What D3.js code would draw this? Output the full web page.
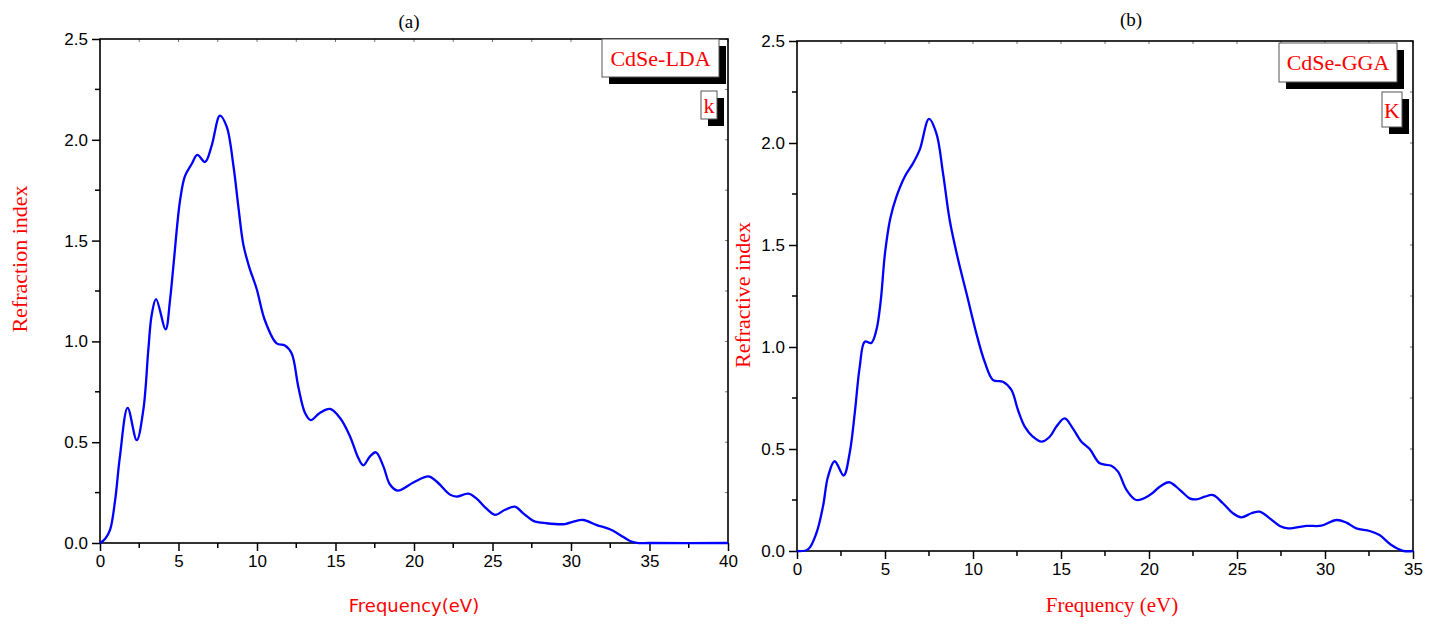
<!DOCTYPE html>
<html><head><meta charset="utf-8">
<script src="https://cdn.jsdelivr.net/npm/d3@7"></script>
<style>body{margin:0;background:#fff}svg{display:block}</style>
</head><body>
<svg id="c" width="1438" height="624"></svg>
<script>
// Panel (a) CdSe-LDA, k vs energy
const energyA = [0,0.32,0.64,0.96,1.27,1.76,2.34,2.76,3.08,3.29,3.57,4.18,4.46,4.67,5.1,5.41,5.84,6.2,6.69,7.11,7.64,8.07,8.5,8.81,9.13,9.5,9.98,10.5,11.25,11.78,12.21,12.63,13.06,13.42,14.0,14.65,15.29,15.92,16.46,16.77,17.2,17.58,18.05,18.47,18.95,19.96,20.92,21.44,22.29,22.72,23.46,23.99,24.62,25.16,25.8,26.43,26.96,27.6,28.45,29.62,30.15,30.78,31.64,32.48,33.12,33.76,34.2,35,40];
const kA = [0,0.02,0.065,0.21,0.43,0.67,0.51,0.66,0.96,1.13,1.21,1.06,1.205,1.37,1.70,1.82,1.88,1.925,1.89,1.97,2.12,2.065,1.87,1.67,1.48,1.37,1.26,1.105,0.99,0.98,0.94,0.775,0.645,0.61,0.645,0.665,0.62,0.53,0.42,0.385,0.43,0.45,0.38,0.29,0.26,0.30,0.33,0.305,0.24,0.23,0.245,0.22,0.17,0.14,0.165,0.18,0.147,0.11,0.098,0.094,0.106,0.114,0.089,0.068,0.04,0.01,0.001,0,0];
// Panel (b) CdSe-GGA, K vs energy
const energyB = [0,0.625,1.1,1.48,1.76,2.14,2.65,2.99,3.28,3.56,3.85,4.22,4.51,4.75,5.0,5.3,5.65,6.12,6.59,6.97,7.5,7.92,8.3,8.68,9.15,9.63,10.19,10.66,11.14,11.7,12.18,12.56,12.94,13.41,13.89,14.36,14.74,15.21,15.68,16.16,16.63,17.2,17.86,18.24,18.72,19.28,20.04,20.61,21.14,21.75,22.31,22.69,23.16,23.64,24.2,24.77,25.25,25.82,26.29,26.86,27.43,27.9,28.94,29.79,30.65,31.22,31.78,32.54,33.1,33.77,34.43,35];
const kB = [0,0.008,0.087,0.22,0.364,0.44,0.37,0.479,0.675,0.90,1.026,1.02,1.083,1.22,1.46,1.63,1.737,1.835,1.90,1.966,2.118,2.047,1.85,1.62,1.43,1.263,1.067,0.928,0.838,0.83,0.79,0.69,0.61,0.56,0.536,0.56,0.61,0.65,0.60,0.536,0.50,0.43,0.418,0.389,0.30,0.25,0.274,0.315,0.337,0.30,0.258,0.253,0.266,0.274,0.234,0.185,0.165,0.185,0.193,0.16,0.123,0.111,0.123,0.124,0.152,0.139,0.111,0.098,0.078,0.029,0.001,0];

const xTicksA = [0,5,10,15,20,25,30,35,40];
const xTicksB = [0,5,10,15,20,25,30,35];
const yTicks = [0,0.5,1.0,1.5,2.0,2.5];

const svg = d3.select("#c");

function panel(cfg){
  const g = svg.append("g");
  const x = d3.scaleLinear().domain(cfg.xdom).range([cfg.L, cfg.R]);
  const y = d3.scaleLinear().domain([0,2.5]).range([cfg.B, cfg.T]);

  const xMinor = d3.range(cfg.xdom[0], cfg.xdom[1]+0.001, 2.5);
  const yMinor = d3.range(0, 2.5001, 0.25);

  // bottom axis
  const bx = d3.axisBottom(x).tickValues(cfg.xticks).tickFormat(d3.format("d")).tickSize(8).tickSizeOuter(0).tickPadding(4);
  const gb = g.append("g").attr("transform",`translate(0,${cfg.B})`).call(bx);
  gb.selectAll("text").style("font-family","'Liberation Sans',Arial,sans-serif").style("font-size","17px").attr("fill","#000");
  gb.select(".domain").remove();
  gb.selectAll("line").attr("stroke-width",1.5);
  g.append("g").selectAll("line").data(xMinor.filter(v=>!cfg.xticks.includes(v))).join("line")
    .attr("x1",d=>x(d)).attr("x2",d=>x(d)).attr("y1",cfg.B).attr("y2",cfg.B+5).attr("stroke","#000").attr("stroke-width",1.5);

  // left axis
  const ly = d3.axisLeft(y).tickValues(yTicks).tickFormat(d3.format(".1f")).tickSize(8).tickSizeOuter(0).tickPadding(4);
  const gl = g.append("g").attr("transform",`translate(${cfg.L},0)`).call(ly);
  gl.selectAll("text").style("font-family","'Liberation Sans',Arial,sans-serif").style("font-size","17px").attr("fill","#000");
  gl.select(".domain").remove();
  gl.selectAll("line").attr("stroke-width",1.5);
  g.append("g").selectAll("line").data(yMinor.filter((v,i)=>i%2===1)).join("line")
    .attr("x1",cfg.L-5).attr("x2",cfg.L).attr("y1",d=>y(d)).attr("y2",d=>y(d)).attr("stroke","#000").attr("stroke-width",1.5);

  // top & right inward ticks
  g.append("g").selectAll("line").data(xMinor).join("line")
    .attr("x1",d=>x(d)).attr("x2",d=>x(d)).attr("y1",cfg.T).attr("y2",cfg.T+3).attr("stroke","#777").attr("stroke-width",1);
  g.append("g").selectAll("line").data(yMinor).join("line")
    .attr("x1",cfg.R-3).attr("x2",cfg.R).attr("y1",d=>y(d)).attr("y2",d=>y(d)).attr("stroke","#777").attr("stroke-width",1);

  // frame
  g.append("rect").attr("x",cfg.L).attr("y",cfg.T).attr("width",cfg.R-cfg.L).attr("height",cfg.B-cfg.T)
    .attr("fill","none").attr("stroke","#000").attr("stroke-width",1.6);

  // curve
  const line = d3.line().x((d,i)=>x(cfg.xs[i])).y((d,i)=>y(cfg.ys[i])).curve(d3.curveCatmullRom.alpha(0.5));
  g.append("path").datum(cfg.ys).attr("d",line).attr("fill","none").attr("stroke","#0000ff").attr("stroke-width",2.3);

  // legend boxes
  cfg.boxes.forEach(b=>{
    g.append("rect").attr("x",b.x+7).attr("y",b.y+7).attr("width",b.w).attr("height",b.h).attr("fill","#000");
    g.append("rect").attr("x",b.x).attr("y",b.y).attr("width",b.w).attr("height",b.h).attr("fill","#fff").attr("stroke","#555").attr("stroke-width",1);
    g.append("text").attr("x",b.x+b.w/2).attr("y",b.by).attr("text-anchor","middle")
      .style("font-family","'Liberation Serif','Times New Roman',serif").style("font-size",b.fs+"px").attr("fill","#ff0000").text(b.t);
  });

  // titles
  g.append("text").attr("x",cfg.titleX).attr("y",cfg.titleY).attr("text-anchor","middle")
    .style("font-family","'Liberation Serif','Times New Roman',serif").style("font-size","19px").attr("fill","#000").text(cfg.title);
  g.append("text").attr("x",cfg.xlabX).attr("y",612).attr("text-anchor","middle")
    .style("font-family",cfg.xlabFont).style("font-size",cfg.xlabSize+"px").attr("fill","#ff0000").text(cfg.xlab);
  g.append("text").attr("transform",`translate(${cfg.ylabX},${cfg.ylabY}) rotate(-90)`).attr("text-anchor","middle")
    .style("font-family","'Liberation Serif','Times New Roman',serif").style("font-size","22px").attr("fill","#ff0000").text(cfg.ylab);
}

panel({xdom:[0,40], L:100, R:728, T:39, B:543, xticks:xTicksA, xs:energyA, ys:kA,
  boxes:[{x:602,y:39,w:117,h:38,t:"CdSe-LDA",by:66,fs:22},{x:701,y:91,w:16,h:28,t:"k",by:113,fs:22}],
  title:"(a)", titleX:409, titleY:28,
  xlab:"Frequency(eV)", xlabX:414, xlabFont:"'DejaVu Sans',Verdana,sans-serif", xlabSize:18,
  ylab:"Refraction index", ylabX:27, ylabY:259});

panel({xdom:[0,35], L:797, R:1413, T:41, B:551, xticks:xTicksB, xs:energyB, ys:kB,
  boxes:[{x:1279,y:43,w:118,h:39,t:"CdSe-GGA",by:70,fs:22},{x:1382,y:92,w:20,h:35,t:"K",by:118,fs:22}],
  title:"(b)", titleX:1131, titleY:26,
  xlab:"Frequency (eV)", xlabX:1112, xlabFont:"'Liberation Serif','Times New Roman',serif", xlabSize:21,
  ylab:"Refractive index", ylabX:750, ylabY:295});
</script>
</body></html>
